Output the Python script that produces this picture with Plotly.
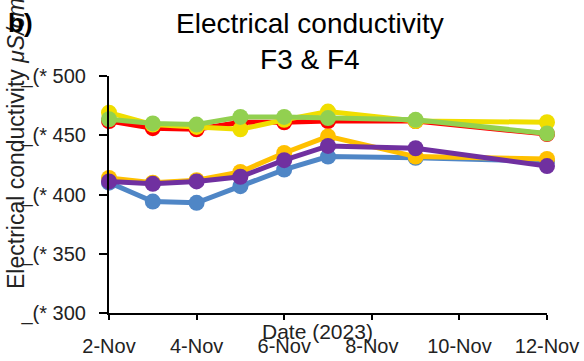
import plotly.graph_objects as go

# Sampling dates (November 2023)
dates = ["2023-11-02", "2023-11-03", "2023-11-04", "2023-11-05",
         "2023-11-06", "2023-11-07", "2023-11-09", "2023-11-12"]

# Electrical conductivity readings per sensor series
ec_red = [462, 456, 455, 461, 461, 462, 462, 451]
ec_yellow = [469, 459, 457, 455, 463, 470, 462, 461]
ec_green = [463.5, 460, 459, 465.5, 465.5, 464.5, 463, 451.5]
ec_blue = [410, 394, 393, 407, 421, 432, 431, 428]
ec_gold = [414, 410, 412, 419, 435, 449, 432, 430]
ec_purple = [411, 409, 411, 415, 429, 441, 439, 424]

series = [
    (ec_red, "#FF0000"),
    (ec_yellow, "#F0DE00"),
    (ec_green, "#92D050"),
    (ec_blue, "#4F86C6"),
    (ec_gold, "#FFC000"),
    (ec_purple, "#7030A0"),
]

y_ticks = [300, 350, 400, 450, 500]
y_ticktext = ["_(* " + str(v) for v in y_ticks]

FONT = "Liberation Sans, Arial, sans-serif"

fig = go.Figure()
for values, color in series:
    fig.add_trace(go.Scatter(
        x=dates, y=values, mode="lines+markers",
        line=dict(color=color, width=5),
        marker=dict(color=color, size=16),
        showlegend=False, cliponaxis=False,
    ))

W, H = 584, 361
L, R, T, B = 109, 37, 76, 48
pw, ph = W - L - R, H - T - B


def px(x):
    return (x - L) / pw


def py(y):
    return (H - B - y) / ph


fig.update_layout(
    width=W, height=H,
    margin=dict(l=L, r=R, t=T, b=B, autoexpand=False),
    paper_bgcolor="white", plot_bgcolor="white",
    font=dict(family=FONT, color="black"),
    xaxis=dict(
        type="date",
        range=["2023-11-02", "2023-11-12"],
        tickvals=["2023-11-02", "2023-11-04", "2023-11-06",
                  "2023-11-08", "2023-11-10", "2023-11-12"],
        tickformat="%-d-%b",
        showline=True, linecolor="black", linewidth=2,
        ticks="outside", ticklen=5, tickwidth=2, tickcolor="black",
        showgrid=False, zeroline=False, automargin=False,
        tickfont=dict(size=20, family=FONT, color="#222"),
        ticklabelstandoff=9,
    ),
    yaxis=dict(
        range=[300, 500],
        tickvals=y_ticks, ticktext=y_ticktext,
        showline=True, linecolor="black", linewidth=2,
        ticks="outside", ticklen=8, tickwidth=2, tickcolor="black",
        showgrid=False, zeroline=False, automargin=False,
        tickfont=dict(size=20, family=FONT, color="#222"),
        ticklabelstandoff=9,
    ),
    annotations=[
        dict(text="Electrical conductivity<br>F3 & F4",
             x=px(310), y=py(41), xref="paper", yref="paper",
             xanchor="center", yanchor="middle", showarrow=False,
             font=dict(size=28, family=FONT, color="black")),
        dict(text="Date (2023)",
             x=px(317), y=py(331), xref="paper", yref="paper",
             xanchor="center", yanchor="middle", showarrow=False,
             font=dict(size=21, family=FONT, color="#222")),
        dict(text="Electrical conductivity <i>μS/cm</i>",
             x=px(16), y=py(144), xref="paper", yref="paper",
             xanchor="center", yanchor="middle", showarrow=False,
             textangle=-90,
             font=dict(size=23, family=FONT, color="#222")),
        dict(text="<b>b)</b>",
             x=px(20), y=py(23), xref="paper", yref="paper",
             xanchor="center", yanchor="middle", showarrow=False,
             font=dict(size=26, family=FONT, color="black")),
    ],
)

fig.write_html("out.html")
